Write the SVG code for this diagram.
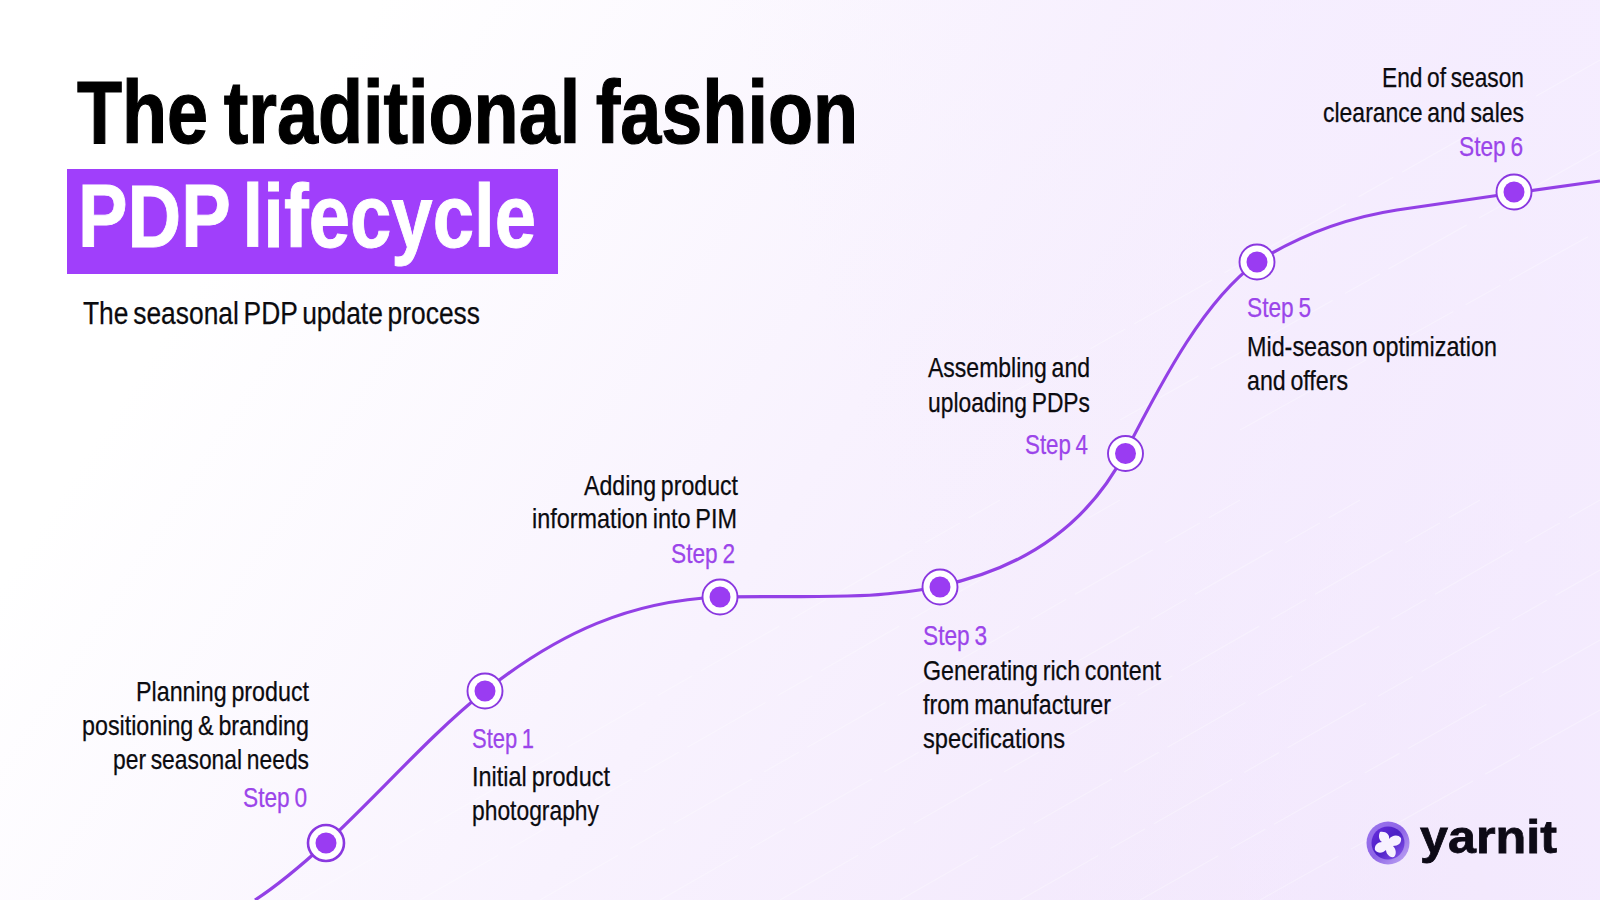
<svg xmlns="http://www.w3.org/2000/svg" width="1600" height="900" viewBox="0 0 1600 900">
<defs>
<linearGradient id="bg" gradientUnits="userSpaceOnUse" x1="250" y1="200" x2="1400" y2="950">
<stop offset="0" stop-color="#ffffff"/><stop offset="0.45" stop-color="#f8f2fe"/><stop offset="1" stop-color="#f1e5fc"/>
</linearGradient>
<linearGradient id="bg2" gradientUnits="userSpaceOnUse" x1="800" y1="250" x2="1600" y2="0">
<stop offset="0" stop-color="#f5edff" stop-opacity="0"/><stop offset="1" stop-color="#f5edff" stop-opacity="0.9"/>
</linearGradient>
<linearGradient id="orb" x1="0" y1="0" x2="1" y2="1">
<stop offset="0" stop-color="#9d78ee"/><stop offset="0.5" stop-color="#8d63e6"/><stop offset="1" stop-color="#c4adf5"/>
</linearGradient>
<linearGradient id="swirl" x1="0" y1="0" x2="1" y2="1">
<stop offset="0" stop-color="#6a2ee0"/><stop offset="0.5" stop-color="#4b1fc4"/><stop offset="1" stop-color="#8f5bf0"/>
</linearGradient>
<style>
text{font-family:"Liberation Sans",Arial,sans-serif}
.t{font-size:28px;fill:#0b0b0f;stroke:#0b0b0f;stroke-width:.25;word-spacing:-2px}
.s{font-size:28px;fill:#9b45ea;stroke:#9b45ea;stroke-width:.25;word-spacing:-2px}
.r{text-anchor:end}
.ring{fill:#fff;stroke:#8a38e0;stroke-width:1.9}
.dot{fill:#9a3cf2}
.deco{fill:none;stroke:#ffffff;stroke-opacity:.3;stroke-width:1.2;stroke-dasharray:90 14 40 10}
</style>
</defs>
<rect width="1600" height="900" fill="url(#bg)"/>
<rect width="1600" height="900" fill="url(#bg2)"/>
<g class="deco">
<path d="M300 900L1000 500"/><path d="M420 900L1120 500"/><path d="M540 900L1240 500"/><path d="M660 900L1360 500"/><path d="M780 900L1480 500"/><path d="M900 900L1600 500"/><path d="M1020 900L1600 570"/><path d="M1140 900L1600 640"/><path d="M1260 900L1600 710"/><path d="M1000 400L1600 60"/><path d="M1120 420L1600 150"/><path d="M1240 430L1600 230"/>
</g>
<g id="heading">
<text x="77" y="143" font-size="89" font-weight="700" fill="#000" stroke="#000" stroke-width="1.2" word-spacing="-6" textLength="781" lengthAdjust="spacingAndGlyphs">The traditional fashion</text>
<rect x="67" y="169" width="491" height="105" fill="#a03ffb"/>
<text x="78" y="247" font-size="89" font-weight="700" fill="#fff" stroke="#fff" stroke-width=".9" word-spacing="-9" textLength="458" lengthAdjust="spacingAndGlyphs">PDP lifecycle</text>
<text x="83" y="324" font-size="31" fill="#0b0b0f" stroke="#0b0b0f" stroke-width=".25" word-spacing="-3" textLength="397" lengthAdjust="spacingAndGlyphs">The seasonal PDP update process</text>
</g>
<g id="connectors">
<path fill="none" stroke="#9340e6" stroke-width="3.2" d="M255 900C280 884 304 863 326 843C380 793 430 735 485 691C560 632 630 601 720 597C780 596 850 598 885 594C905 592 920 591 940 586C1030 567 1090 520 1125 453C1165 375 1205 300 1257 262C1300 235 1345 218 1397 210L1514 193L1600 181"/>
</g>
<g id="step0"><circle class="ring" style="stroke-width:2.6" cx="326" cy="843" r="18"/><circle class="dot" cx="326" cy="843" r="10.5"/>
<text class="t r" x="309" y="701" textLength="173" lengthAdjust="spacingAndGlyphs">Planning product</text>
<text class="t r" x="309" y="735" textLength="227" lengthAdjust="spacingAndGlyphs">positioning &amp; branding</text>
<text class="t r" x="309" y="769" textLength="196" lengthAdjust="spacingAndGlyphs">per seasonal needs</text>
<text class="s r" x="307" y="807" textLength="64" lengthAdjust="spacingAndGlyphs">Step 0</text></g>
<g id="step1"><circle class="ring" cx="485" cy="691" r="17.5"/><circle class="dot" cx="485" cy="691" r="10.5"/>
<text class="s" x="472" y="748" textLength="62" lengthAdjust="spacingAndGlyphs">Step 1</text>
<text class="t" x="472" y="786" textLength="138" lengthAdjust="spacingAndGlyphs">Initial product</text>
<text class="t" x="472" y="820" textLength="127" lengthAdjust="spacingAndGlyphs">photography</text></g>
<g id="step2"><circle class="ring" cx="720" cy="597" r="17.5"/><circle class="dot" cx="720" cy="597" r="10.5"/>
<text class="t r" x="738" y="495" textLength="154" lengthAdjust="spacingAndGlyphs">Adding product</text>
<text class="t r" x="737" y="528" textLength="205" lengthAdjust="spacingAndGlyphs">information into PIM</text>
<text class="s r" x="735" y="563" textLength="64" lengthAdjust="spacingAndGlyphs">Step 2</text></g>
<g id="step3"><circle class="ring" cx="940" cy="587" r="17.5"/><circle class="dot" cx="940" cy="587" r="10.5"/>
<text class="s" x="923" y="645" textLength="64" lengthAdjust="spacingAndGlyphs">Step 3</text>
<text class="t" x="923" y="680" textLength="238" lengthAdjust="spacingAndGlyphs">Generating rich content</text>
<text class="t" x="923" y="714" textLength="188" lengthAdjust="spacingAndGlyphs">from manufacturer</text>
<text class="t" x="923" y="748" textLength="142" lengthAdjust="spacingAndGlyphs">specifications</text></g>
<g id="step4"><circle class="ring" cx="1125.5" cy="453.5" r="17.5"/><circle class="dot" cx="1125.5" cy="453.5" r="10.5"/>
<text class="t" x="928" y="377" textLength="162" lengthAdjust="spacingAndGlyphs">Assembling and</text>
<text class="t" x="928" y="412" textLength="162" lengthAdjust="spacingAndGlyphs">uploading PDPs</text>
<text class="s r" x="1088" y="454" textLength="63" lengthAdjust="spacingAndGlyphs">Step 4</text></g>
<g id="step5"><circle class="ring" cx="1257" cy="262" r="17.5"/><circle class="dot" cx="1257" cy="262" r="10.5"/>
<text class="s" x="1247" y="317" textLength="64" lengthAdjust="spacingAndGlyphs">Step 5</text>
<text class="t" x="1247" y="356" textLength="250" lengthAdjust="spacingAndGlyphs">Mid-season optimization</text>
<text class="t" x="1247" y="390" textLength="101" lengthAdjust="spacingAndGlyphs">and offers</text></g>
<g id="step6"><circle class="ring" cx="1514" cy="192" r="17.5"/><circle class="dot" cx="1514" cy="192" r="10.5"/>
<text class="t r" x="1524" y="87" textLength="142" lengthAdjust="spacingAndGlyphs">End of season</text>
<text class="t r" x="1524" y="122" textLength="201" lengthAdjust="spacingAndGlyphs">clearance and sales</text>
<text class="s r" x="1523" y="156" textLength="64" lengthAdjust="spacingAndGlyphs">Step 6</text></g>
<g id="logo">
<circle cx="1388" cy="843" r="21.5" fill="url(#orb)"/>
<circle cx="1388" cy="843" r="16.5" fill="url(#swirl)"/>
<path d="M1380 832C1386 831 1390 835 1389 839C1392 835 1398 834 1401 838C1402 843 1398 846 1393 846C1396 849 1397 854 1394 857C1389 858 1386 853 1386 850C1383 853 1378 854 1375 850C1374 845 1378 842 1382 842C1379 840 1378 836 1380 832Z" fill="#f7f1ff"/>
<text x="1420" y="853" font-size="47" font-weight="800" fill="#0d0a16" stroke="#0d0a16" stroke-width=".8" font-family="Inter, 'Liberation Sans', sans-serif" textLength="137" lengthAdjust="spacingAndGlyphs">yarnit</text>
</g>
</svg>
